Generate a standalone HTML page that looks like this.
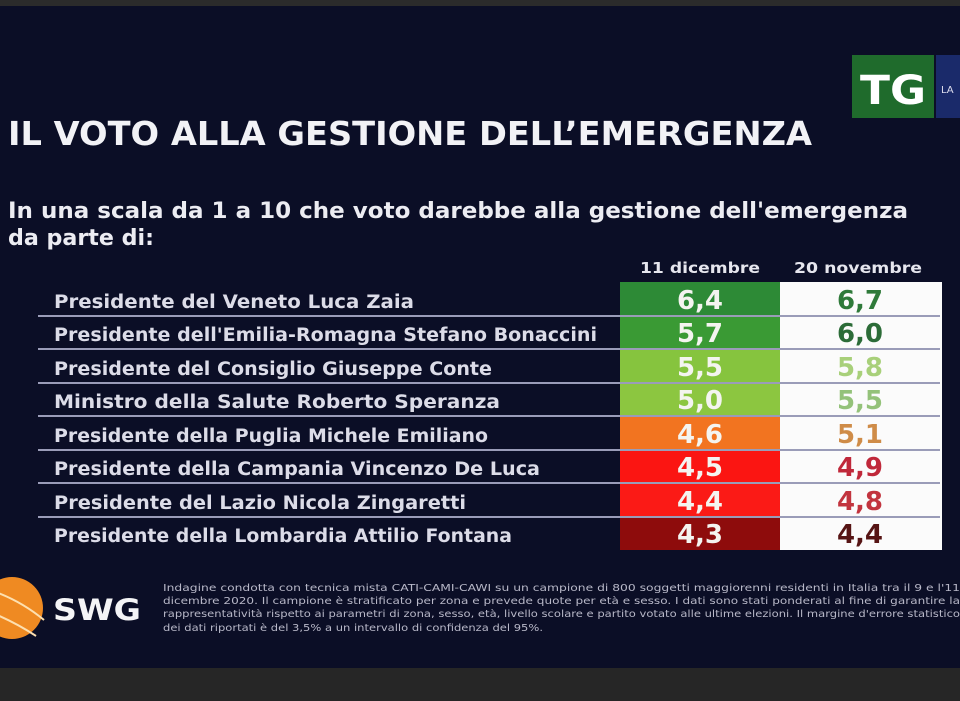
<!DOCTYPE html>
<html><head><meta charset="utf-8"><style>
html,body{margin:0;padding:0;background:#0b0e26;}
svg{display:block;}
text{font-family:"DejaVu Sans","Liberation Sans",sans-serif;}
</style></head><body>
<svg width="960" height="701" viewBox="0 0 960 701" xmlns="http://www.w3.org/2000/svg">
<rect width="960" height="701" fill="#0b0e26"/>
<rect width="960" height="6" fill="#2b2b2b"/>
<rect y="668" width="960" height="33" fill="#262626"/>
<!-- TG logo -->
<rect x="852" y="55" width="82" height="63" fill="#1f6b2c"/>
<rect x="936" y="55" width="24" height="63" fill="#1a2a6a"/>
<text x="893" y="104" font-size="40" font-weight="bold" fill="#fff" text-anchor="middle" textLength="66" lengthAdjust="spacingAndGlyphs">TG</text>
<text x="941" y="93" font-size="10" fill="#dde" >LA</text>
<!-- title -->
<text x="8" y="145" font-size="33" font-weight="bold" fill="#f2f2f6" textLength="804" lengthAdjust="spacingAndGlyphs">IL VOTO ALLA GESTIONE DELL’EMERGENZA</text>
<text x="8" y="218" font-size="22" font-weight="bold" fill="#ececf2" textLength="900" lengthAdjust="spacingAndGlyphs">In una scala da 1 a 10 che voto darebbe alla gestione dell'emergenza</text>
<text x="8" y="245" font-size="22" font-weight="bold" fill="#ececf2" textLength="146" lengthAdjust="spacingAndGlyphs">da parte di:</text>
<text x="700" y="273" font-size="15" font-weight="bold" fill="#e6e6ee" text-anchor="middle" textLength="120" lengthAdjust="spacingAndGlyphs">11 dicembre</text>
<text x="858" y="273" font-size="15" font-weight="bold" fill="#e6e6ee" text-anchor="middle" textLength="128" lengthAdjust="spacingAndGlyphs">20 novembre</text>
<!-- table -->
<rect x="780" y="282" width="162" height="268" fill="#fbfbfb"/>
<g>
<rect x="620" y="282" width="160" height="34" fill="#2d8a36"/>
<rect x="620" y="316" width="160" height="33" fill="#3a9a34"/>
<rect x="620" y="349" width="160" height="34" fill="#86c43e"/>
<rect x="620" y="383" width="160" height="33" fill="#8cc640"/>
<rect x="620" y="416" width="160" height="34" fill="#f27420"/>
<rect x="620" y="450" width="160" height="33" fill="#fb1512"/>
<rect x="620" y="483" width="160" height="34" fill="#fb1a16"/>
<rect x="620" y="517" width="160" height="33" fill="#8e0c0c"/>
</g>
<g stroke="#9a9cb8" stroke-width="2">
<line x1="38" y1="316" x2="940" y2="316"/>
<line x1="38" y1="349" x2="940" y2="349"/>
<line x1="38" y1="383" x2="940" y2="383"/>
<line x1="38" y1="416" x2="940" y2="416"/>
<line x1="38" y1="450" x2="940" y2="450"/>
<line x1="38" y1="483" x2="940" y2="483"/>
<line x1="38" y1="517" x2="940" y2="517"/>
</g>
<g font-size="18.5" font-weight="bold" fill="#dcdce8">
<text x="54" y="308" textLength="360" lengthAdjust="spacingAndGlyphs">Presidente del Veneto Luca Zaia</text>
<text x="54" y="341" textLength="543" lengthAdjust="spacingAndGlyphs">Presidente dell'Emilia-Romagna Stefano Bonaccini</text>
<text x="54" y="375" textLength="438" lengthAdjust="spacingAndGlyphs">Presidente del Consiglio Giuseppe Conte</text>
<text x="54" y="408" textLength="446" lengthAdjust="spacingAndGlyphs">Ministro della Salute Roberto Speranza</text>
<text x="54" y="442" textLength="434" lengthAdjust="spacingAndGlyphs">Presidente della Puglia Michele Emiliano</text>
<text x="54" y="475" textLength="486" lengthAdjust="spacingAndGlyphs">Presidente della Campania Vincenzo De Luca</text>
<text x="54" y="509" textLength="412" lengthAdjust="spacingAndGlyphs">Presidente del Lazio Nicola Zingaretti</text>
<text x="54" y="542" textLength="458" lengthAdjust="spacingAndGlyphs">Presidente della Lombardia Attilio Fontana</text>
</g>
<g font-size="26" font-weight="bold" text-anchor="middle">
<g fill="#f4f4f0">
<text x="700" y="309">6,4</text>
<text x="700" y="342">5,7</text>
<text x="700" y="376">5,5</text>
<text x="700" y="409">5,0</text>
<text x="700" y="443">4,6</text>
<text x="700" y="476">4,5</text>
<text x="700" y="510">4,4</text>
<text x="700" y="543">4,3</text>
</g>
<text x="860" y="309" fill="#2f7a3a">6,7</text>
<text x="860" y="342" fill="#2c6c38">6,0</text>
<text x="860" y="376" fill="#a8d07a">5,8</text>
<text x="860" y="409" fill="#94c27a">5,5</text>
<text x="860" y="443" fill="#cf8c48">5,1</text>
<text x="860" y="476" fill="#c0283a">4,9</text>
<text x="860" y="510" fill="#c2343e">4,8</text>
<text x="860" y="543" fill="#561414">4,4</text>
</g>
<!-- SWG logo -->
<circle cx="12" cy="608" r="31" fill="#ef8a22"/>
<path d="M-10 590 Q20 600 44 620" stroke="#fde0b0" stroke-width="2" fill="none"/>
<path d="M-10 612 Q15 622 36 636" stroke="#fde0b0" stroke-width="2" fill="none"/>
<text x="53" y="620" font-size="29" font-weight="bold" fill="#f4f4f6" textLength="88" lengthAdjust="spacingAndGlyphs">SWG</text>
<g font-size="10" fill="#b8b8c8">
<text x="163" y="591" textLength="797" lengthAdjust="spacingAndGlyphs">Indagine condotta con tecnica mista CATI-CAMI-CAWI su un campione di 800 soggetti maggiorenni residenti in Italia tra il 9 e l'11</text>
<text x="163" y="604" textLength="797" lengthAdjust="spacingAndGlyphs">dicembre 2020. Il campione è stratificato per zona e prevede quote per età e sesso. I dati sono stati ponderati al fine di garantire la</text>
<text x="163" y="617" textLength="797" lengthAdjust="spacingAndGlyphs">rappresentatività rispetto ai parametri di zona, sesso, età, livello scolare e partito votato alle ultime elezioni. Il margine d'errore statistico</text>
<text x="163" y="631" textLength="380" lengthAdjust="spacingAndGlyphs">dei dati riportati è del 3,5% a un intervallo di confidenza del 95%.</text>
</g>
</svg>
</body></html>
